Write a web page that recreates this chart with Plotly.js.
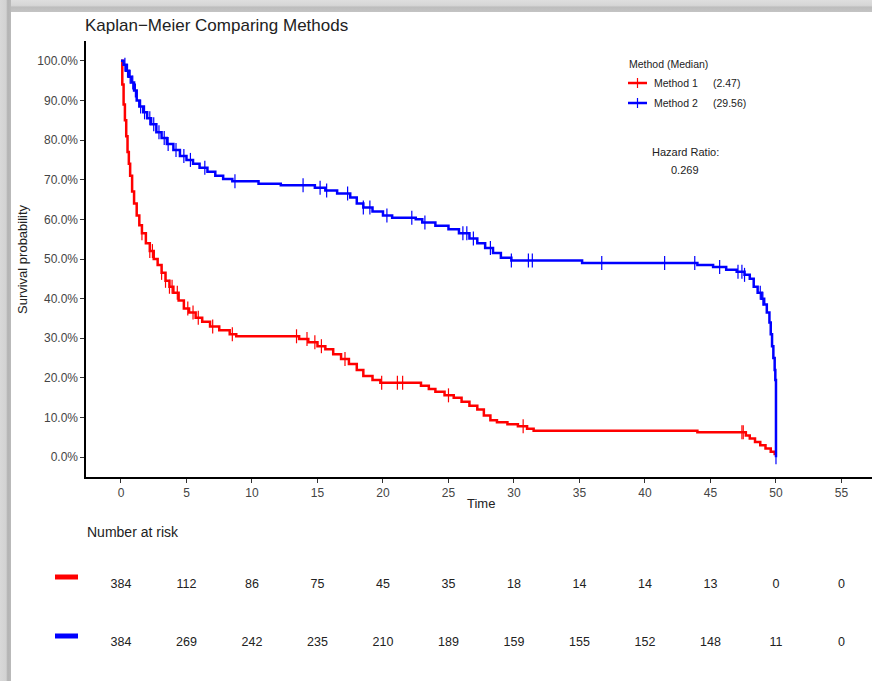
<!DOCTYPE html>
<html>
<head>
<meta charset="utf-8">
<script src="https://cdn.plot.ly/plotly-3.0.1.min.js"></script>
<style>
  html, body { margin: 0; padding: 0; background: #ffffff; width: 872px; height: 681px; overflow: hidden; }
  #chart { position: absolute; left: 0; top: 0; width: 872px; height: 681px; }
  #frameTop { position: absolute; left: 0; top: 0; width: 872px; height: 12px; pointer-events: none;
    background: linear-gradient(to bottom, #dedede 0%, #d6d6d6 45%, #bdbdbd 60%, #c4c4c4 100%); }
  #frameLeft { position: absolute; left: 0; top: 0; width: 11px; height: 681px; pointer-events: none;
    background: linear-gradient(to right, #d8d8d8 0%, #d2d2d2 55%, #b3b3b3 70%, #bababa 100%); }
</style>
</head>
<body>
<div id="chart"></div>
<div id="frameTop"></div>
<div id="frameLeft"></div>
<script>
// ---------------- data ----------------
const methodNames = ['Method 1', 'Method 2'];
const medians = ['(2.47)', '(29.56)'];
const hazardRatio = '0.269';

// Method 1 (red) Kaplan-Meier steps: time, survival
const timeM1 = [0, 0.1, 0.2, 0.3, 0.4, 0.5, 0.6, 0.7, 0.85, 1.0, 1.2, 1.4, 1.6, 1.9, 2.2, 2.5, 2.8, 3.1, 3.4, 3.7, 4.0, 4.4, 4.8, 5.2, 5.7, 6.2, 6.8, 7.5, 8.3, 8.8, 13.6, 14.3, 15.0, 15.6, 16.2, 16.8, 17.4, 18.0, 18.5, 19.2, 19.8, 22.9, 23.5, 24.0, 24.7, 25.4, 26.0, 26.6, 27.2, 27.7, 28.2, 28.7, 29.5, 30.3, 31.0, 31.5, 44.0, 47.7, 48.0, 48.4, 48.8, 49.2, 49.6, 49.9, 50.0];
const survM1 = [1.00, 0.94, 0.89, 0.85, 0.81, 0.77, 0.74, 0.71, 0.67, 0.64, 0.61, 0.585, 0.565, 0.54, 0.52, 0.50, 0.485, 0.465, 0.445, 0.43, 0.415, 0.395, 0.375, 0.365, 0.352, 0.342, 0.33, 0.32, 0.31, 0.305, 0.298, 0.29, 0.28, 0.272, 0.26, 0.248, 0.235, 0.22, 0.205, 0.195, 0.188, 0.18, 0.172, 0.165, 0.156, 0.15, 0.14, 0.13, 0.12, 0.105, 0.093, 0.088, 0.083, 0.078, 0.072, 0.067, 0.063, 0.055, 0.047, 0.038, 0.030, 0.022, 0.014, 0.008, 0.008];
const censorM1 = [1.6, 2.2, 2.4, 3.1, 3.4, 3.7, 3.9, 4.3, 5.1, 5.5, 5.9, 7.0, 8.5, 13.4, 14.2, 14.8, 15.3, 17.1, 19.9, 21.1, 21.5, 25.0, 30.7, 47.4, 47.5];

// Method 2 (blue) Kaplan-Meier steps: time, survival
const timeM2 = [0, 0.2, 0.4, 0.6, 0.8, 1.0, 1.2, 1.4, 1.7, 2.0, 2.3, 2.7, 3.1, 3.5, 4.0, 4.5, 5.0, 5.5, 6.0, 6.6, 7.2, 7.8, 8.5, 10.5, 12.2, 14.8, 15.6, 16.5, 17.5, 18.0, 18.5, 19.2, 20.0, 20.7, 22.5, 23.0, 24.0, 25.0, 25.8, 26.6, 27.2, 27.8, 28.4, 29.0, 29.8, 35.2, 44.0, 45.2, 46.2, 47.0, 47.6, 48.0, 48.3, 48.6, 48.9, 49.1, 49.3, 49.5, 49.6, 49.7, 49.8, 49.9, 49.95, 50.0];
const survM2 = [1.00, 0.99, 0.975, 0.96, 0.945, 0.925, 0.90, 0.885, 0.87, 0.855, 0.84, 0.82, 0.805, 0.79, 0.775, 0.76, 0.75, 0.74, 0.73, 0.72, 0.71, 0.702, 0.696, 0.69, 0.686, 0.68, 0.673, 0.665, 0.655, 0.64, 0.63, 0.62, 0.61, 0.604, 0.60, 0.592, 0.584, 0.575, 0.565, 0.552, 0.54, 0.528, 0.515, 0.503, 0.496, 0.49, 0.485, 0.48, 0.473, 0.468, 0.46, 0.45, 0.43, 0.415, 0.40, 0.385, 0.365, 0.34, 0.31, 0.28, 0.25, 0.22, 0.195, 0.0];
const censorM2 = [0.3, 0.5, 0.7, 0.9, 1.1, 1.5, 1.8, 2.2, 2.5, 2.9, 3.3, 3.6, 4.2, 4.8, 5.3, 6.4, 8.7, 13.9, 15.2, 15.7, 17.3, 18.5, 19.0, 20.3, 22.2, 23.2, 26.1, 26.4, 26.9, 28.2, 29.8, 31.1, 31.4, 36.7, 41.5, 43.8, 45.7, 47.1, 47.4, 47.6, 48.8, 49.0, 50.0];

// Number at risk table
const riskTimes = [0, 5, 10, 15, 20, 25, 30, 35, 40, 45, 50, 55];
const riskM1 = [384, 112, 86, 75, 45, 35, 18, 14, 14, 13, 0, 0];
const riskM2 = [384, 269, 242, 235, 210, 189, 159, 155, 152, 148, 11, 0];

const xTicks = [0, 5, 10, 15, 20, 25, 30, 35, 40, 45, 50, 55];
const yTicks = [0, 0.1, 0.2, 0.3, 0.4, 0.5, 0.6, 0.7, 0.8, 0.9, 1.0];

// ---------------- styles ----------------
const RED = '#ff0000';
const BLUE = '#0000ff';
const FONT = 'Liberation Sans, Arial, sans-serif';

// step-function lookup for censor marks (value of the curve at a time)
function stepAt(times, surv, t) {
  let v = surv[0];
  for (let i = 0; i < times.length; i++) { if (times[i] <= t) v = surv[i]; else break; }
  return v;
}

// pixel -> paper helpers (plot area: left 86, top 41, width 786, height 640)
const L = 86, T = 41, PW = 872 - L, PH = 681 - T;
const px = v => (v - L) / PW;
const py = v => (681 - v) / PH;

const traces = [
  { x: timeM1, y: survM1, type: 'scatter', mode: 'lines', line: { color: RED, width: 2.5, shape: 'hv' }, name: methodNames[0], showlegend: false, xaxis: 'x', yaxis: 'y' },
  { x: timeM2, y: survM2, type: 'scatter', mode: 'lines', line: { color: BLUE, width: 2.5, shape: 'hv' }, name: methodNames[1], showlegend: false, xaxis: 'x', yaxis: 'y' },
  { x: censorM1, y: censorM1.map(t => stepAt(timeM1, survM1, t)), type: 'scatter', mode: 'markers',
    marker: { symbol: 'line-ns', size: 10, line: { color: RED, width: 1.2 } }, showlegend: false, cliponaxis: false },
  { x: censorM2, y: censorM2.map(t => stepAt(timeM2, survM2, t)), type: 'scatter', mode: 'markers',
    marker: { symbol: 'line-ns', size: 10, line: { color: BLUE, width: 1.2 } }, showlegend: false, cliponaxis: false },
  { x: riskTimes, y: riskM1.map(() => methodNames[0]), text: riskM1.map(String), type: 'scatter', mode: 'text',
    textposition: 'middle center', textfont: { family: FONT, size: 12.5, color: '#222' }, xaxis: 'x2', yaxis: 'y2', showlegend: false },
  { x: riskTimes, y: riskM2.map(() => methodNames[1]), text: riskM2.map(String), type: 'scatter', mode: 'text',
    textposition: 'middle center', textfont: { family: FONT, size: 12.5, color: '#222' }, xaxis: 'x2', yaxis: 'y2', showlegend: false }
];

const axisCommon = {
  showgrid: false, zeroline: false, showline: true, linecolor: '#000', linewidth: 1.6,
  ticks: 'outside', ticklen: 4, tickwidth: 1, tickcolor: '#333',
  tickfont: { family: FONT, size: 12, color: '#444' }
};

const ann = (x, y, text, size, opts) => Object.assign({
  xref: 'paper', yref: 'paper', x: px(x), y: py(y), text: text, showarrow: false,
  xanchor: 'left', yanchor: 'middle', font: { family: FONT, size: size, color: '#222' }
}, opts || {});

const layout = {
  width: 872, height: 681,
  margin: { l: L, r: 0, t: T, b: 0, pad: 0 },
  paper_bgcolor: '#ffffff', plot_bgcolor: 'rgba(0,0,0,0)',
  showlegend: false, hovermode: false,
  title: { text: 'Kaplan\u2212Meier Comparing Methods', xref: 'container', yref: 'container',
    x: 85 / 872, xanchor: 'left', y: 1 - 25 / 681, yanchor: 'middle',
    font: { family: FONT, size: 17, color: '#222' } },
  xaxis: Object.assign({}, axisCommon, { domain: [0, 1], range: [-2.67, 57.33], tickvals: xTicks, anchor: 'y' }),
  yaxis: Object.assign({}, axisCommon, { domain: [py(477), 1], range: [-0.05, 1.05], tickvals: yTicks, tickformat: '.1%', anchor: 'x' }),
  xaxis2: { domain: [0, 1], range: [-2.67, 57.33], visible: false, anchor: 'y2' },
  yaxis2: { domain: [0, 0.25], range: [-0.655, 2.103], type: 'category', categoryarray: [methodNames[1], methodNames[0]], visible: false, anchor: 'x2' },
  annotations: [
    ann(22, 259, 'Survival probability', 13, { textangle: -90, xanchor: 'center' }),
    ann(481, 503, 'Time', 13, { xanchor: 'center' }),
    ann(627, 64, 'Method (Median)', 10.5),
    ann(652, 83, methodNames[0], 10.5),
    ann(711, 83, medians[0], 10.5),
    ann(652, 103, methodNames[1], 10.5),
    ann(711, 103, medians[1], 10.5),
    ann(685, 152, 'Hazard Ratio:', 11, { xanchor: 'center' }),
    ann(685, 170, hazardRatio, 11, { xanchor: 'center' }),
    ann(85, 532, 'Number at risk', 14)
  ],
  shapes: [
    { type: 'line', xref: 'paper', yref: 'paper', x0: px(628), x1: px(647), y0: py(83), y1: py(83), line: { color: RED, width: 2.5 } },
    { type: 'line', xref: 'paper', yref: 'paper', x0: px(637.5), x1: px(637.5), y0: py(78), y1: py(88), line: { color: RED, width: 1.2 } },
    { type: 'line', xref: 'paper', yref: 'paper', x0: px(628), x1: px(647), y0: py(103), y1: py(103), line: { color: BLUE, width: 2.5 } },
    { type: 'line', xref: 'paper', yref: 'paper', x0: px(637.5), x1: px(637.5), y0: py(98), y1: py(108), line: { color: BLUE, width: 1.2 } },
    { type: 'line', xref: 'paper', yref: 'paper', x0: px(55), x1: px(78), y0: py(577), y1: py(577), line: { color: RED, width: 5 } },
    { type: 'line', xref: 'paper', yref: 'paper', x0: px(55), x1: px(78), y0: py(636), y1: py(636), line: { color: BLUE, width: 5 } }
  ]
};

Plotly.newPlot('chart', traces, layout, { staticPlot: true, displayModeBar: false });
</script>
</body>
</html>
